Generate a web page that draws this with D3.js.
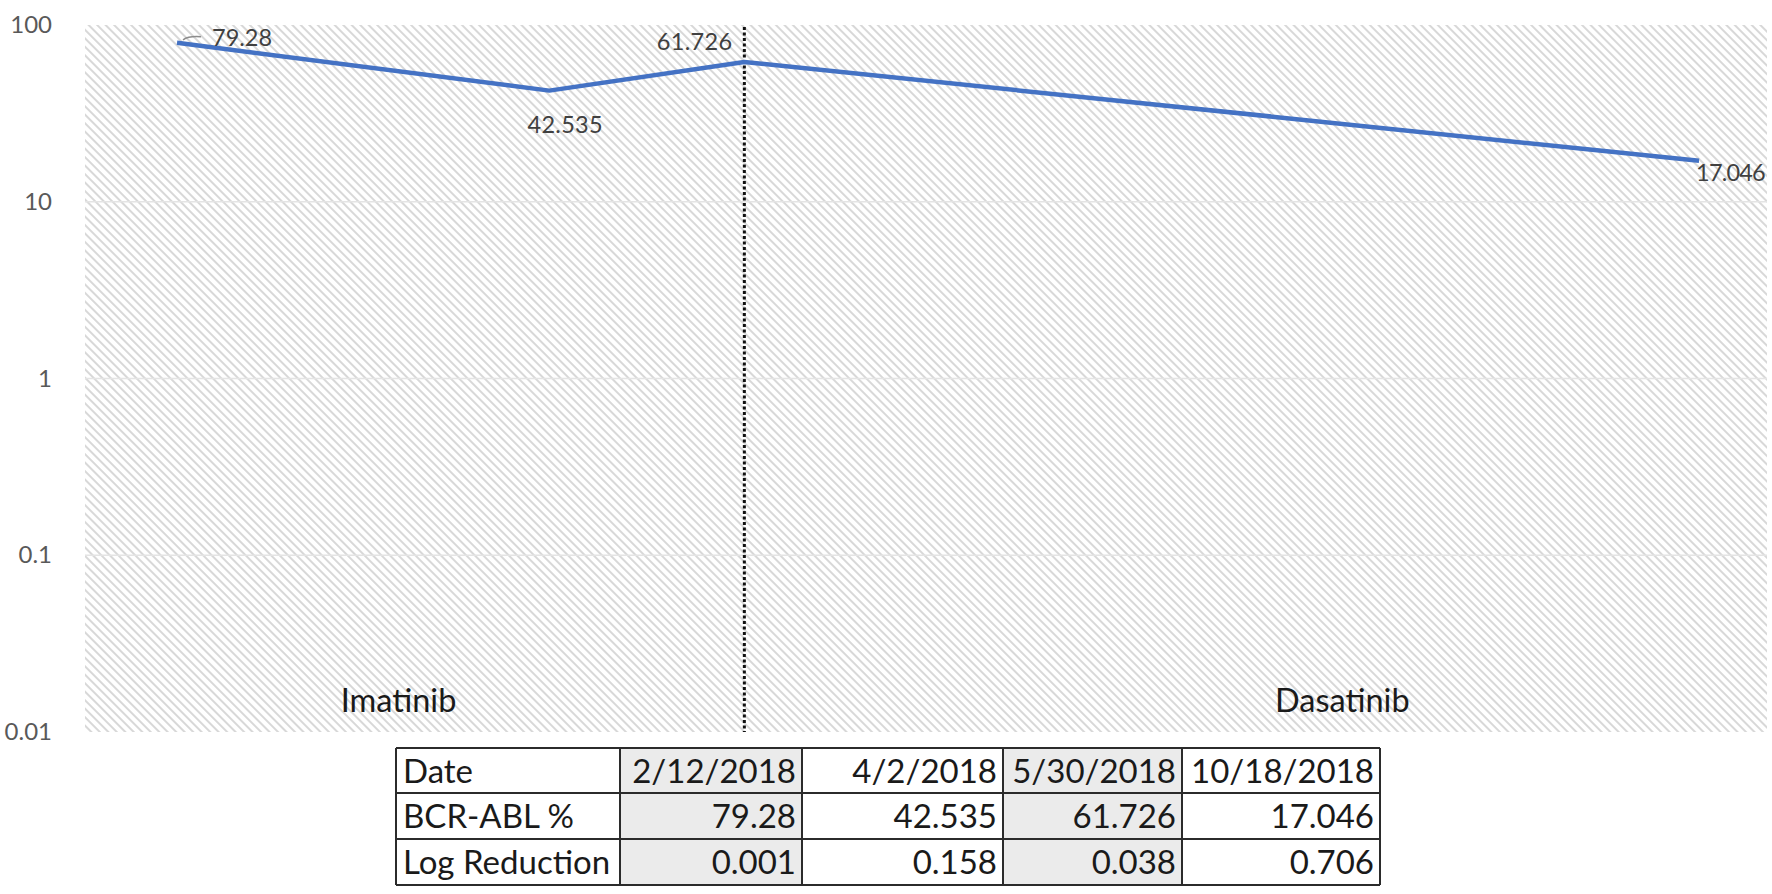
<!DOCTYPE html>
<html>
<head>
<meta charset="utf-8">
<script src="https://cdn.jsdelivr.net/npm/d3@7"></script>
<style>
  html, body { margin: 0; padding: 0; background: #fff; }
  svg { display: block; }
  text { font-family: Lato, "Open Sans", sans-serif; }
</style>
</head>
<body>
<svg id="chart" width="1772" height="894"></svg>
<script>
// ---------- data ----------
const dates = ["2/12/2018", "4/2/2018", "5/30/2018", "10/18/2018"];
const bcrAbl = [79.28, 42.535, 61.726, 17.046];
const logReduction = ["0.001", "0.158", "0.038", "0.706"];
// horizontal position of each sample along the axis (percent of axis length)
const samplePos = [5.47, 27.6, 39.2, 95.96];
const yTicks = [100, 10, 1, 0.1, 0.01];
const yTickLabels = ["100", "10", "1", "0.1", "0.01"];
const treatments = ["Imatinib", "Dasatinib"];
const treatmentPos = [15.2, 70.75];
const switchIndex = 2; // dotted line at treatment switch (5/30/2018)
const tableRowLabels = ["Date", "BCR-ABL %", "Log Reduction"];

// ---------- layout ----------
const svg = d3.select("#chart");
const plot = { left: 85, right: 1767, top: 25, bottom: 732 };

const x = d3.scaleLinear().domain([0, 100]).range([plot.left, plot.right]);
const y = d3.scaleLog().domain([0.01, 100]).range([plot.bottom, plot.top]);

// hatch pattern
const defs = svg.append("defs");
const pat = defs.append("pattern")
  .attr("id", "hatch")
  .attr("patternUnits", "userSpaceOnUse")
  .attr("width", 6).attr("height", 6)
  .attr("patternTransform", "rotate(45)");
pat.append("line")
  .attr("x1", 0).attr("y1", 3).attr("x2", 6).attr("y2", 3)
  .attr("stroke", "#d8d8d8").attr("stroke-width", 2);

svg.append("rect")
  .attr("x", plot.left).attr("y", plot.top)
  .attr("width", plot.right - plot.left).attr("height", plot.bottom - plot.top)
  .attr("fill", "url(#hatch)");

// gridlines
svg.append("g").selectAll("line").data(yTicks.slice(1, 4)).join("line")
  .attr("x1", plot.left).attr("x2", plot.right)
  .attr("y1", d => y(d)).attr("y2", d => y(d))
  .attr("stroke", "#e4e4e4").attr("stroke-width", 1.5);

// y axis labels
const yAxis = d3.axisLeft(y).tickValues(yTicks)
  .tickFormat((d, i) => yTickLabels[i]).tickSize(0).tickPadding(33);
const gy = svg.append("g").attr("transform", `translate(${plot.left},0)`).call(yAxis);
gy.select(".domain").remove();
gy.selectAll("text")
  .attr("font-family", "Lato, 'Open Sans', sans-serif")
  .attr("font-size", 24).attr("fill", "#595959");

// treatment labels
svg.append("g").selectAll("text").data(treatments).join("text")
  .attr("x", (d, i) => x(treatmentPos[i]))
  .attr("y", 712)
  .attr("font-size", 32.5).attr("fill", "#1a1a1a")
  .text(d => d);

// dotted switch line
svg.append("line")
  .attr("x1", x(samplePos[switchIndex])).attr("x2", x(samplePos[switchIndex]))
  .attr("y1", plot.top + 2).attr("y2", plot.bottom)
  .attr("stroke", "#111").attr("stroke-width", 3)
  .attr("stroke-dasharray", "3,2.5");

// data line
const pts = bcrAbl.map((v, i) => [x(samplePos[i]), y(v)]);
svg.append("path")
  .attr("d", d3.line()(pts))
  .attr("fill", "none").attr("stroke", "#4472C4")
  .attr("stroke-width", 4.5).attr("stroke-linejoin", "round");

// data labels
const labelOffsets = [
  { dx: 35, dy: 3, anchor: "start", ls: 0 },
  { dx: 16, dy: 42, anchor: "middle", ls: 0.3 },
  { dx: -12, dy: -12, anchor: "end", ls: 0.3 },
  { dx: -3, dy: 20, anchor: "start", ls: -0.8 }
];
svg.append("g").selectAll("text").data(bcrAbl).join("text")
  .attr("x", (d, i) => pts[i][0] + labelOffsets[i].dx)
  .attr("y", (d, i) => pts[i][1] + labelOffsets[i].dy)
  .attr("text-anchor", (d, i) => labelOffsets[i].anchor)
  .attr("letter-spacing", (d, i) => labelOffsets[i].ls)
  .attr("font-size", 23.5).attr("fill", "#404040")
  .text(d => d);

// leader line for first label
svg.append("path")
  .attr("d", `M${pts[0][0] + 6},${pts[0][1] - 3} Q${pts[0][0] + 12},${pts[0][1] - 7} ${pts[0][0] + 24},${pts[0][1] - 6}`)
  .attr("fill", "none").attr("stroke", "#8c8c8c").attr("stroke-width", 1.5);

// ---------- data table ----------
const colEdges = [396, 620, 802, 1003, 1182, 1380];
const rowEdges = [748, 793, 839, 885];
const shaded = [true, false, true, false];
const tableRows = [dates, bcrAbl.map(String), logReduction];

const tg = svg.append("g");
tableRows.forEach((row, r) => {
  row.forEach((val, c) => {
    if (shaded[c]) {
      tg.append("rect")
        .attr("x", colEdges[c + 1]).attr("y", rowEdges[r])
        .attr("width", colEdges[c + 2] - colEdges[c + 1])
        .attr("height", rowEdges[r + 1] - rowEdges[r])
        .attr("fill", "#ebebeb");
    }
  });
});
rowEdges.forEach(ry => {
  tg.append("line").attr("x1", colEdges[0]).attr("x2", colEdges[colEdges.length - 1])
    .attr("y1", ry).attr("y2", ry).attr("stroke", "#2b2b2b").attr("stroke-width", 2);
});
colEdges.forEach(cx => {
  tg.append("line").attr("x1", cx).attr("x2", cx)
    .attr("y1", rowEdges[0]).attr("y2", rowEdges[rowEdges.length - 1])
    .attr("stroke", "#2b2b2b").attr("stroke-width", 2);
});
tableRowLabels.forEach((lab, r) => {
  tg.append("text")
    .attr("x", colEdges[0] + 7)
    .attr("y", (rowEdges[r] + rowEdges[r + 1]) / 2 + 12)
    .attr("font-size", 33).attr("fill", "#1a1a1a")
    .text(lab);
});
tableRows.forEach((row, r) => {
  row.forEach((val, c) => {
    tg.append("text")
      .attr("x", colEdges[c + 2] - 6)
      .attr("y", (rowEdges[r] + rowEdges[r + 1]) / 2 + 12)
      .attr("text-anchor", "end")
      .attr("font-size", 33).attr("fill", "#1a1a1a")
      .text(val);
  });
});
</script>
</body>
</html>
